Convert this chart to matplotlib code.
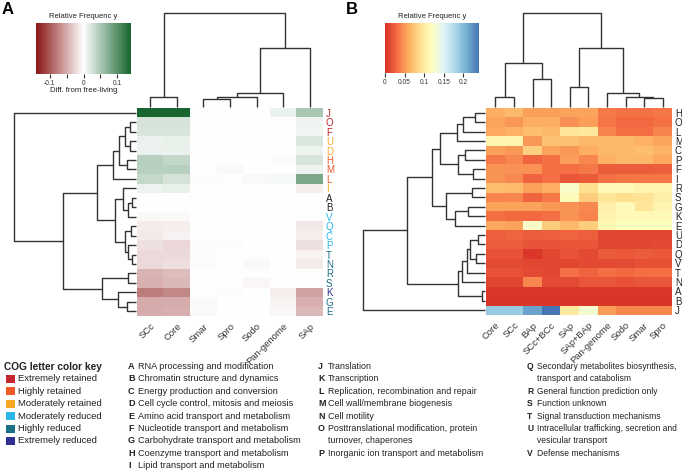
import matplotlib
matplotlib.use('Agg')
import matplotlib.pyplot as plt
import numpy as np
from matplotlib.colors import LinearSegmentedColormap
from matplotlib.patches import Rectangle

plt.rcParams['font.family'] = ['Liberation Sans', 'DejaVu Sans']

# ---------------- data: panel A ----------------
colsA = ['SCc', 'Core', 'Smar', 'Spro', 'Sodo', 'Pan-genome', 'SAp']
rowsA = ['J', 'O', 'F', 'U', 'D', 'H', 'M', 'L', 'I', 'A', 'B', 'V', 'Q', 'C', 'P',
         'T', 'N', 'R', 'S', 'K', 'G', 'E']
valsA = [
    [0.140, 0.140, 0.0, 0.0, 0.0, 0.012, 0.052],    # J
    [0.026, 0.026, 0.002, 0.0, 0.0, 0.0, 0.010],    # O
    [0.024, 0.024, 0.0, 0.0, 0.0, 0.0, 0.008],      # F
    [0.012, 0.014, 0.0, 0.0, 0.0, 0.0, 0.022],      # U
    [0.012, 0.012, 0.0, 0.0, 0.0, 0.0, 0.010],      # D
    [0.043, 0.036, 0.0, 0.0, 0.0, 0.003, 0.024],    # H
    [0.042, 0.042, 0.0, -0.004, 0.0, 0.0, 0.010],   # M
    [0.034, 0.026, -0.002, 0.002, -0.004, 0.006, 0.079],  # L
    [0.010, 0.014, 0.0, 0.0, 0.0, 0.0, -0.010],     # I
    [0.0, 0.0, 0.0, 0.0, 0.0, 0.0, 0.0],            # A
    [0.0, 0.0, 0.0, 0.0, 0.0, 0.0, 0.0],            # B
    [-0.004, -0.004, 0.0, 0.0, 0.0, 0.0, 0.0],      # V
    [-0.012, -0.010, 0.0, 0.0, 0.0, 0.0, -0.014],   # Q
    [-0.014, -0.008, 0.0, 0.0, 0.0, 0.0, -0.010],   # C
    [-0.018, -0.024, -0.002, -0.002, 0.0, 0.0, -0.019],  # P
    [-0.022, -0.022, -0.002, 0.0, 0.0, 0.0, -0.007],     # T
    [-0.022, -0.019, -0.002, 0.0, -0.004, 0.0, -0.012],  # N
    [-0.045, -0.040, 0.0, 0.0, 0.0, 0.0, 0.002],    # R
    [-0.048, -0.042, 0.0, 0.0, -0.005, 0.0, 0.002],  # S
    [-0.078, -0.072, 0.0, -0.002, 0.0, -0.010, -0.055],  # K
    [-0.050, -0.050, -0.004, 0.0, 0.0, -0.007, -0.048],  # G
    [-0.050, -0.048, -0.004, 0.0, 0.0, -0.005, -0.042],  # E
]
status_A = ['ext_ret', 'ext_ret', 'ext_ret', 'mod_ret', 'mod_ret', 'high_ret', 'high_ret',
            'high_ret', 'mod_ret', 'none', 'none', 'mod_red', 'mod_red', 'mod_red',
            'mod_red', 'high_red', 'high_red', 'high_red', 'high_red', 'ext_red',
            'high_red', 'high_red']
# dendrograms: (height, left, right)
coltreeA = (94, (10, 'SCc', 'Core'),
            (59, (14, (10.5, (8.5, 'Smar', 'Spro'), 'Sodo'), 'Pan-genome'), 'SAp'))
rowtreeA = (122, 'J',
            (73,
             (39,
              (23, (17, (11, (6, 'O', 'F'), (6, 'U', 'D')), (9, 'H', 'M')), 'L'),
              (21, (13, 'I', (8, (4, 'A', 'B'), 'V')),
                   (11, (5, 'Q', 'C'), (8, 'P', (4, 'T', 'N'))))),
             (34, (8, 'R', 'S'), (18, 'K', (9, 'G', 'E')))))

# ---------------- data: panel B ----------------
colsB = ['Core', 'SCc', 'BAp', 'SCc+BCc', 'SAp', 'SAp+BAp', 'Pan-genome', 'Sodo', 'Smar', 'Spro']
rowsB = ['H', 'O', 'L', 'M', 'C', 'P', 'F', 'I', 'R', 'S', 'G', 'K', 'E', 'U', 'D', 'Q',
         'V', 'T', 'N', 'A', 'B', 'J']
valsB = [
    [0.060, 0.067, 0.054, 0.053, 0.056, 0.056, 0.036, 0.032, 0.032, 0.035],  # H
    [0.055, 0.050, 0.060, 0.060, 0.046, 0.053, 0.034, 0.029, 0.029, 0.031],  # O
    [0.058, 0.062, 0.070, 0.067, 0.095, 0.098, 0.041, 0.030, 0.030, 0.041],  # L
    [0.110, 0.110, 0.050, 0.072, 0.072, 0.066, 0.066, 0.066, 0.062, 0.056],  # M
    [0.054, 0.050, 0.080, 0.055, 0.050, 0.060, 0.066, 0.067, 0.070, 0.064],  # C
    [0.036, 0.043, 0.026, 0.031, 0.053, 0.043, 0.062, 0.066, 0.066, 0.058],  # P
    [0.048, 0.047, 0.047, 0.031, 0.031, 0.036, 0.022, 0.022, 0.022, 0.024],  # F
    [0.048, 0.044, 0.026, 0.031, 0.019, 0.022, 0.031, 0.034, 0.034, 0.034],  # I
    [0.070, 0.068, 0.054, 0.060, 0.125, 0.090, 0.115, 0.115, 0.110, 0.110],  # R
    [0.041, 0.043, 0.026, 0.036, 0.115, 0.079, 0.095, 0.090, 0.093, 0.105],  # S
    [0.055, 0.055, 0.055, 0.050, 0.048, 0.044, 0.105, 0.115, 0.095, 0.110],  # G
    [0.031, 0.029, 0.029, 0.031, 0.048, 0.041, 0.110, 0.115, 0.115, 0.115],  # K
    [0.058, 0.055, 0.125, 0.079, 0.067, 0.079, 0.113, 0.120, 0.120, 0.120],  # E
    [0.024, 0.026, 0.022, 0.024, 0.026, 0.024, 0.012, 0.012, 0.012, 0.012],  # U
    [0.022, 0.022, 0.018, 0.018, 0.019, 0.019, 0.012, 0.012, 0.012, 0.014],  # D
    [0.017, 0.017, 0.004, 0.012, 0.017, 0.014, 0.022, 0.020, 0.022, 0.020],  # Q
    [0.014, 0.014, 0.012, 0.012, 0.012, 0.014, 0.014, 0.014, 0.016, 0.016],  # V
    [0.017, 0.017, 0.014, 0.012, 0.031, 0.026, 0.031, 0.029, 0.031, 0.031],  # T
    [0.012, 0.012, 0.043, 0.014, 0.014, 0.019, 0.019, 0.017, 0.019, 0.020],  # N
    [0.004, 0.004, 0.004, 0.004, 0.004, 0.004, 0.004, 0.004, 0.004, 0.004],  # A
    [0.003, 0.003, 0.003, 0.003, 0.003, 0.003, 0.003, 0.003, 0.003, 0.003],  # B
    [0.190, 0.190, 0.215, 0.240, 0.100, 0.130, 0.052, 0.042, 0.042, 0.043],  # J
]
coltreeB = (94, (44, (10, 'Core', 'SCc'), (28, 'BAp', 'SCc+BCc')),
            (59, (20, 'SAp', 'SAp+BAp'),
             (14, 'Pan-genome', (10, 'Sodo', (9, 'Smar', 'Spro')))))
rowtreeB = (122,
            (78,
             (53,
              (45, (28, (22, (10, 'H', 'O'), 'L'), 'M'), (27, (20, 'C', 'P'), (12, 'F', 'I'))),
              (39, (13, 'R', 'S'), (30, (17, 'G', 'K'), 'E'))),
             (27, (23, (18, (15, (7, 'U', 'D'), (9, 'Q', 'V')), 'T'), 'N'), (3, 'A', 'B'))),
            'J')

# ---------------- legend text ----------------
status_labels = ['Extremely retained', 'Highly retained', 'Moderately retained',
                 'Moderately reduced', 'Highly reduced', 'Extremely reduced']
status_keys = ['ext_ret', 'high_ret', 'mod_ret', 'mod_red', 'high_red', 'ext_red']
status_colors = {'ext_ret': '#c1272d', 'high_ret': '#f15a24', 'mod_ret': '#f7a823',
                 'mod_red': '#29b6e8', 'high_red': '#1b6f84', 'ext_red': '#2e3192',
                 'none': '#222222'}
cog_col1 = [('A', 'RNA processing and modification'), ('B', 'Chromatin structure and dynamics'),
            ('C', 'Energy production and conversion'), ('D', 'Cell cycle control, mitosis and meiosis'),
            ('E', 'Amino acid transport and metabolism'), ('F', 'Nucleotide transport and metabolism'),
            ('G', 'Carbohydrate transport and metabolism'), ('H', 'Coenzyme transport and metabolism'),
            ('I', 'Lipid transport and metabolism')]
cog_col2 = [('J', 'Translation'), ('K', 'Transcription'),
            ('L', 'Replication, recombination and repair'), ('M', 'Cell wall/membrane biogenesis'),
            ('N', 'Cell motility'), ('O', 'Posttranslational modification, protein'),
            ('', 'turnover, chaperones'), ('P', 'Inorganic ion transport and metabolism')]
cog_col3 = [('Q', 'Secondary metabolites biosynthesis,'), ('', 'transport and catabolism'),
            ('R', 'General function prediction only'), ('S', 'Function unknown'),
            ('T', 'Signal transduction mechanisms'), ('U', 'Intracellular trafficking, secretion and'),
            ('', 'vesicular transport'), ('V', 'Defense mechanisms')]

# ---------------- figure ----------------
W, H = 682, 471
fig = plt.figure(figsize=(W / 100, H / 100), dpi=100)
LC = '#333333'


def ax_px(x0, y0, x1, y1):
    return fig.add_axes([x0 / W, 1 - y1 / H, (x1 - x0) / W, (y1 - y0) / H])


def fx(x):
    return x / W


def fy(y):
    return 1 - y / H


def draw_tree(ax, tree, order, orient):
    if isinstance(tree, str):
        return order.index(tree), 0.0
    h, a, b = tree
    pa, ha = draw_tree(ax, a, order, orient)
    pb, hb = draw_tree(ax, b, order, orient)
    p = [pa, pa, pb, pb]
    hh = [ha, h, h, hb]
    if orient == 'top':
        ax.plot(p, hh, color=LC, lw=1.0, clip_on=False, solid_capstyle='butt')
    else:
        ax.plot(hh, p, color=LC, lw=1.0, clip_on=False, solid_capstyle='butt')
    return (pa + pb) / 2, h


def clean(ax):
    for s in ax.spines.values():
        s.set_visible(False)
    ax.set_xticks([])
    ax.set_yticks([])


def panel(hx0, hx1, hy0, hy1, data, rows, cols, cmap, vmin, vmax, coltree, rowtree,
          rowcolors):
    axh = ax_px(hx0, hy0, hx1, hy1)
    axh.imshow(np.array(data), cmap=cmap, vmin=vmin, vmax=vmax, aspect='auto',
               interpolation='nearest')
    for s in axh.spines.values():
        s.set_visible(False)
    axh.yaxis.tick_right()
    axh.set_yticks(range(len(rows)))
    axh.set_yticklabels(rows, fontsize=7)
    for t, c in zip(axh.get_yticklabels(), rowcolors):
        t.set_color(c)
    axh.set_xticks(range(len(cols)))
    axh.set_xticklabels(cols, fontsize=6.8, rotation=45, ha='right', rotation_mode='anchor',
                        color='#333333')
    axh.tick_params(length=0, pad=2)
    axh.tick_params(axis='x', pad=4)
    # column dendrogram
    axc = ax_px(hx0, 13, hx1, 107)
    draw_tree(axc, coltree, cols, 'top')
    axc.set_xlim(-0.5, len(cols) - 0.5)
    axc.set_ylim(0, coltree[0])
    clean(axc)
    # row dendrogram
    axr = ax_px(hx0 - 1 - rowtree[0], hy0, hx0 - 1, hy1)
    draw_tree(axr, rowtree, rows, 'left')
    axr.set_xlim(rowtree[0], 0)
    axr.set_ylim(len(rows) - 0.5, -0.5)
    clean(axr)


cmapA = LinearSegmentedColormap.from_list('ra', ['#8a1616', '#ffffff', '#17662f'])
cmapB = LinearSegmentedColormap.from_list('rb', ['#d73027', '#f46d43', '#fdae61', '#fee090',
                                                 '#ffffbf', '#e0f3f8', '#abd9e9', '#74add1',
                                                 '#4575b4'])
vA = 0.14
vB = 0.24

panel(137, 323, 108, 316, valsA, rowsA, colsA, cmapA, -vA, vA, coltreeA, rowtreeA,
      [status_colors[s] for s in status_A])
panel(486, 672, 108, 315, valsB, rowsB, colsB, cmapB, 0, vB, coltreeB, rowtreeB,
      ['#222222'] * len(rowsB))


def colorbar(x0, x1, y0, y1, cmap, vmin, vmax, ticks, labels, xlabel):
    ax = ax_px(x0, y0, x1, y1)
    grad = np.linspace(vmin, vmax, 256)[None, :]
    ax.imshow(grad, cmap=cmap, vmin=vmin, vmax=vmax, aspect='auto',
              extent=[vmin, vmax, 0, 1])
    for s in ax.spines.values():
        s.set_visible(False)
    ax.set_yticks([])
    ax.set_xticks(ticks)
    ax.set_xticklabels(labels, fontsize=4.8, color='#333333')
    ax.tick_params(axis='x', length=3, width=0.8, color='#333333', pad=1)
    fig.text(fx((x0 + x1) / 2), fy(y0 - 6), 'Relative Frequenc y', fontsize=5.5,
             ha='center', va='center', color='#222222')
    if xlabel:
        fig.text(fx((x0 + x1) / 2), fy(91), xlabel, fontsize=5.6, ha='center',
                 va='center', color='#222222')


colorbar(36, 131, 23, 74, cmapA, -vA, vA, [-0.1, -0.05, 0, 0.05, 0.1],
         ['-0.1', '', '0', '', '0.1'], 'Diff. from free-living')
colorbar(385, 479, 23, 73, cmapB, 0, vB, [0, 0.05, 0.1, 0.15, 0.2],
         ['0', '0.05', '0.1', '0.15', '0.2'], None)

fig.text(fx(2), fy(10), 'A', fontsize=12, fontweight='bold', va='center', ha='left')
fig.text(fx(346), fy(10), 'B', fontsize=12, fontweight='bold', va='center', ha='left')

# ---------------- bottom legend ----------------
ly0 = 366.5
step = 12.4
fig.text(fx(4), fy(ly0), 'COG letter color key', fontsize=7.3, fontweight='bold',
         va='center', ha='left', color='#222222')
for i, (lab, key) in enumerate(zip(status_labels, status_keys)):
    yy = ly0 + step * (i + 1)
    fig.patches.append(Rectangle((fx(6), fy(yy + 4)), 9 / W, 8 / H,
                                 transform=fig.transFigure, facecolor=status_colors[key],
                                 edgecolor='none'))
    fig.text(fx(18), fy(yy), lab, fontsize=6.8, va='center', ha='left', color='#222222')


def cog_column(items, xl, xt, fs):
    for i, (letter, desc) in enumerate(items):
        yy = ly0 + step * i
        if letter:
            fig.text(fx(xl), fy(yy), letter, fontsize=fs, fontweight='bold', va='center',
                     ha='left', color='#222222')
        fig.text(fx(xt), fy(yy), desc, fontsize=fs, va='center', ha='left', color='#222222')


cog_column(cog_col1, 128, 138, 6.6)
cog_column(cog_col2, 318, 328, 6.4)
cog_column(cog_col3, 527, 537, 6.15)

fig.savefig('out.png', dpi=100)
